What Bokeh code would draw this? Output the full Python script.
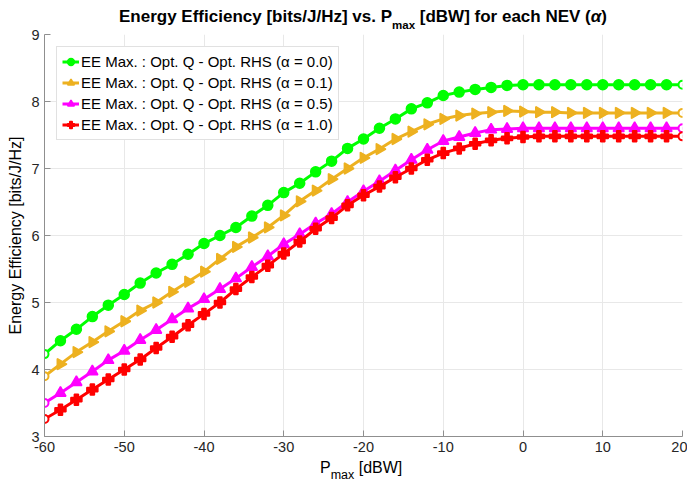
import math
from bokeh.plotting import figure
from bokeh.models import Legend, LegendItem, FixedTicker, Range1d, Div
from bokeh.layouts import column
from bokeh.embed import file_html
from bokeh.resources import INLINE

# ---------------- data ----------------
p_max_dbw = list(range(-60, 21, 2))

ee_alpha_00 = [4.23, 4.43, 4.60, 4.79, 4.96, 5.12, 5.29, 5.44, 5.57, 5.72, 5.88,
               6.00, 6.12, 6.29, 6.45, 6.64, 6.78, 6.95, 7.11, 7.30, 7.44,
               7.60, 7.74, 7.89, 7.98, 8.09, 8.14, 8.18, 8.21, 8.24, 8.25,
               8.25, 8.25, 8.25, 8.25, 8.25, 8.25, 8.25, 8.25, 8.25, 8.25]
ee_alpha_01 = [3.90, 4.08, 4.26, 4.41, 4.57, 4.72, 4.88, 5.00, 5.16, 5.31, 5.46,
               5.65, 5.83, 5.97, 6.12, 6.30, 6.51, 6.67, 6.84, 7.00, 7.16,
               7.29, 7.44, 7.55, 7.66, 7.74, 7.79, 7.82, 7.84, 7.86, 7.85,
               7.84, 7.84, 7.83, 7.83, 7.83, 7.83, 7.83, 7.83, 7.83, 7.83]
ee_alpha_05 = [3.50, 3.65, 3.81, 3.97, 4.14, 4.28, 4.44, 4.59, 4.75, 4.91, 5.05,
               5.20, 5.36, 5.53, 5.69, 5.87, 6.02, 6.18, 6.32, 6.50, 6.66,
               6.81, 6.97, 7.13, 7.28, 7.41, 7.47, 7.53, 7.58, 7.59, 7.60,
               7.60, 7.60, 7.60, 7.60, 7.60, 7.60, 7.60, 7.60, 7.60, 7.60]
ee_alpha_10 = [3.26, 3.40, 3.55, 3.70, 3.85, 4.00, 4.15, 4.32, 4.49, 4.66, 4.83,
               5.00, 5.20, 5.38, 5.55, 5.73, 5.91, 6.10, 6.26, 6.45, 6.60,
               6.73, 6.87, 7.00, 7.13, 7.23, 7.30, 7.37, 7.42, 7.45, 7.47,
               7.48, 7.48, 7.48, 7.48, 7.48, 7.48, 7.48, 7.48, 7.48, 7.48]

series_labels = ["EE Max. : Opt. Q - Opt. RHS (\u03b1 = 0.0)",
                 "EE Max. : Opt. Q - Opt. RHS (\u03b1 = 0.1)",
                 "EE Max. : Opt. Q - Opt. RHS (\u03b1 = 0.5)",
                 "EE Max. : Opt. Q - Opt. RHS (\u03b1 = 1.0)"]

x_ticks = [-60, -50, -40, -30, -20, -10, 0, 10, 20]
x_tick_labels = ["-60", "-50", "-40", "-30", "-20", "-10", "0", "10", "20"]
y_ticks = [3, 4, 5, 6, 7, 8, 9]
y_tick_labels = ["3", "4", "5", "6", "7", "8", "9"]

title_parts = ["Energy Efficiency [bits/J/Hz] vs. P", "max", " [dBW] for each NEV (", "\u03b1", ")"]
xlabel_parts = ["P", "max", " [dBW]"]
ylabel_text = "Energy Efficiency [bits/J/Hz]"

# ---------------- styles ----------------
FONT = "Liberation Sans"
W = 687
colors = ["#00ff00", "#edb120", "#ff00ff", "#ff0000"]
markers = ["circle", "triangle", "triangle", "plus"]
angles = [0.0, -math.pi / 2, 0.0, 0.0]
sizes = [10, 11, 11, 11]

p = figure(width=W, height=431, output_backend="svg", toolbar_location=None,
           x_range=Range1d(-60, 20), y_range=Range1d(3, 9),
           min_border_left=44, min_border_right=5, min_border_top=8,
           min_border_bottom=21)
p.title.visible = False
p.outline_line_color = None
p.background_fill_color = "white"
p.border_fill_alpha = 0.0

for ax in (p.xaxis[0], p.yaxis[0]):
    ax.axis_line_color = "#8f8f8f"
    ax.major_tick_line_color = "#8f8f8f"
    ax.major_tick_in = 6
    ax.major_tick_out = 0
    ax.minor_tick_line_color = None
    ax.major_label_text_font = FONT
    ax.major_label_text_font_size = "14.5px"
    ax.major_label_text_color = "#262626"

p.xaxis.ticker = FixedTicker(ticks=x_ticks)
p.xaxis.major_label_overrides = {t: s for t, s in zip(x_ticks, x_tick_labels)}
p.xaxis.major_label_standoff = 5
p.yaxis.ticker = FixedTicker(ticks=y_ticks)
p.yaxis.major_label_overrides = {t: s for t, s in zip(y_ticks, y_tick_labels)}
p.yaxis.major_label_standoff = 5
p.yaxis.axis_label = ylabel_text
p.yaxis.axis_label_text_font = FONT
p.yaxis.axis_label_text_font_size = "16px"
p.yaxis.axis_label_text_font_style = "normal"
p.yaxis.axis_label_text_color = "#000000"
p.yaxis.axis_label_standoff = 4

p.xgrid.grid_line_color = "#e8e8e8"
p.ygrid.grid_line_color = "#e8e8e8"

all_series = [ee_alpha_00, ee_alpha_01, ee_alpha_05, ee_alpha_10]
items = []
for ys, col, mk, ang, sz, lab in zip(all_series, colors, markers, angles, sizes, series_labels):
    ln = p.line(p_max_dbw, ys, line_color=col, line_width=3)
    sc = p.scatter(p_max_dbw[1:-1], ys[1:-1], marker=mk, angle=ang, size=sz,
                   fill_color=col, line_color=col, line_width=1.5)
    p.scatter([p_max_dbw[0], p_max_dbw[-1]], [ys[0], ys[-1]], marker="circle",
              size=8, fill_color="white", line_color=col, line_width=2)
    items.append(LegendItem(label=lab, renderers=[ln, sc]))

legend = Legend(items=items, location="top_left")
legend.margin = 12
legend.padding = 5
legend.spacing = 2
legend.label_height = 19
legend.glyph_height = 19
legend.glyph_width = 17
legend.label_standoff = 2
legend.label_text_font = FONT
legend.label_text_font_size = "15px"
legend.label_text_color = "#000000"
legend.border_line_color = "#c4c4c4"
legend.border_line_width = 1
legend.background_fill_color = "white"
legend.background_fill_alpha = 1.0
p.add_layout(legend)

# ---------------- title and x label as HTML (for subscripts) ----------------
title_html = (
    f'<div style="font-family:\'{FONT}\',Arial,sans-serif;font-weight:bold;font-size:17px;'
    f'line-height:18px;padding-top:8px;white-space:nowrap;text-align:center;box-sizing:border-box;'
    f'width:{W}px;padding-left:39px;color:#000;">'
    f'{title_parts[0]}<span style="font-size:11.5px;position:relative;top:7px;">{title_parts[1]}</span>'
    f'{title_parts[2]}<i>{title_parts[3]}</i>{title_parts[4]}</div>'
)
xlabel_html = (
    f'<div style="font-family:\'{FONT}\',Arial,sans-serif;font-size:16px;line-height:16px;'
    f'padding-top:3px;white-space:nowrap;padding-left:320px;color:#000;">'
    f'{xlabel_parts[0]}<span style="font-size:12.5px;position:relative;top:6px;">{xlabel_parts[1]}</span>'
    f'{xlabel_parts[2]}</div>'
)
title_div = Div(text=title_html, width=W, height=26, margin=(0, 0, 0, 0),
                styles={"overflow": "visible"})
xlabel_div = Div(text=xlabel_html, width=W, height=25, margin=(0, 0, 0, 0),
                 styles={"overflow": "hidden"})

layout = column(title_div, p, xlabel_div, spacing=0)

open("out.html", "w").write(file_html(layout, INLINE))
